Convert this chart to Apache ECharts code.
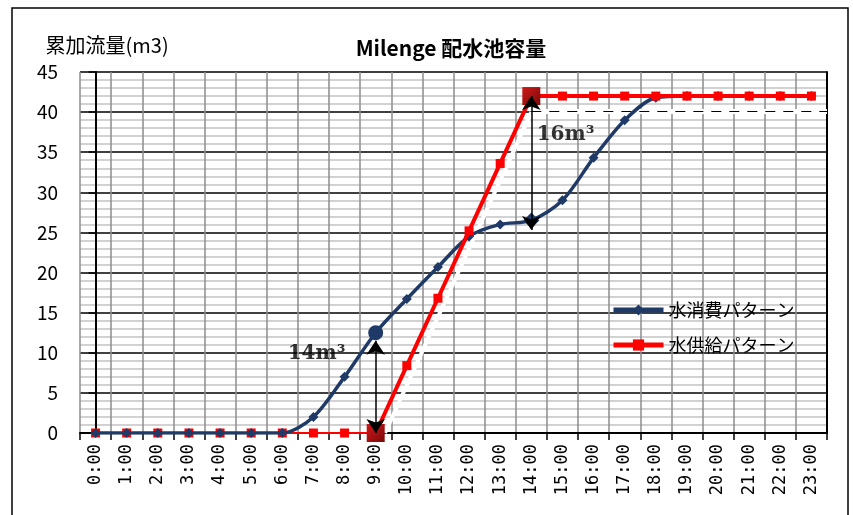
<!DOCTYPE html>
<html>
<head>
<meta charset="utf-8">
<script src="https://cdn.jsdelivr.net/npm/echarts@6/dist/echarts.min.js"></script>
<style>
  html, body { margin: 0; padding: 0; background: #fff; }
  #chart { width: 853px; height: 515px; }
</style>
</head>
<body>
<div id="chart"></div>
<script>
// 時刻（横軸）
const hours = ['0:00', '1:00', '2:00', '3:00', '4:00', '5:00', '6:00', '7:00', '8:00', '9:00', '10:00', '11:00',
  '12:00', '13:00', '14:00', '15:00', '16:00', '17:00', '18:00', '19:00', '20:00', '21:00', '22:00', '23:00'];
// 水消費パターン（累加, m3）
const consumption = [0, 0, 0, 0, 0, 0, 0, 2, 7, 12.5, 16.7, 20.7, 24.5, 26, 26.5, 29, 34.3, 39, 41.8, 42, 42, 42, 42, 42];
// 水供給パターン（累加, m3）
const supply = [0, 0, 0, 0, 0, 0, 0, 0, 0, 0, 8.4, 16.8, 25.2, 33.6, 42, 42, 42, 42, 42, 42, 42, 42, 42, 42];
// 強調する時刻のインデックス
const highlightIdx = [9, 14];
const supplyStart = 9;
// 差分の矢印 [時刻, 下端, 上端]
const gapArrows = [[9, 0, 11.5], [14, 25.3, 42]];
// 矢印ラベル [時刻位置, 値, テキスト]
const gapLabels = [[7.1, 9.9, '14m³'], [15.1, 37.2, '16m³']];
// 白い影の線 と 40m3 の破線
const shadowLine = [[9.3, 0], [14, 40]];
const levelLine = [[14, 40.1], [23.5, 40.1]];

const navy = '#1F3A66';
const red = '#FF0000';
const bigSquare = {
  type: 'linear', x: 0, y: 0, x2: 1, y2: 1,
  colorStops: [{ offset: 0, color: '#D01818' }, { offset: 1, color: '#7A0A0A' }]
};
const font = '"Noto Sans CJK JP", sans-serif';

const chart = echarts.init(document.getElementById('chart'));

const option = {
  animation: false,
  textStyle: { fontFamily: font },
  graphic: [
    { type: 'rect', shape: { x: 12, y: 8, width: 836, height: 530 }, style: { fill: 'none', stroke: '#000', lineWidth: 1.5 }, z: -1 }
  ],
  title: {
    text: 'Milenge 配水池容量',
    left: 446, top: 33, textAlign: 'center',
    textStyle: { fontSize: 21, fontWeight: 'bold', color: '#000', fontFamily: font }
  },
  legend: {
    left: 606, top: 296, orient: 'vertical', itemGap: 17,
    itemWidth: 50, itemHeight: 14,
    lineStyle: { width: 5 },
    data: ['水消費パターン', '水供給パターン'],
    textStyle: { fontSize: 18, color: '#000', fontFamily: font }
  },
  grid: { left: 80, right: 26, top: 72, bottom: 82 },
  xAxis: [
    {
      type: 'category', data: hours,
      axisLine: { lineStyle: { color: '#000', width: 2 } },
      axisTick: { show: true, length: 7, lineStyle: { color: '#000', width: 1.5 } },
      axisLabel: { rotate: 90, margin: 11, fontSize: 17, color: '#000', fontFamily: '"DejaVu Sans Mono", monospace' },
      splitLine: { show: true, lineStyle: { color: '#8c8c8c', width: 1.5 } }
    },
    { type: 'value', min: -0.5, max: 23.5, show: false }
  ],
  yAxis: [
    {
      type: 'value', min: 0, max: 45, interval: 5,
      name: '累加流量(m3)', nameLocation: 'end', nameGap: 17,
      nameTextStyle: { fontSize: 20, color: '#000', align: 'left', padding: [0, 0, 0, -50], fontFamily: font },
      axisLine: { show: true, lineStyle: { color: '#000', width: 2 } },
      axisTick: { show: true, length: 7, lineStyle: { color: '#000', width: 1.5 } },
      axisLabel: { fontSize: 19, color: '#000', margin: 22, fontFamily: font },
      splitLine: { lineStyle: { color: '#000', width: 1.5 } },
      minorTick: { show: false, splitNumber: 5 },
      minorSplitLine: { show: true, lineStyle: { color: '#c4c4c4', width: 1.5 } }
    },
    {
      type: 'value', min: 0, max: 45, position: 'right',
      axisLine: { show: true, lineStyle: { color: '#000', width: 2 } },
      axisTick: { show: false }, axisLabel: { show: false }, splitLine: { show: false }
    }
  ],
  series: [
    {
      name: '白影', type: 'lines', coordinateSystem: 'cartesian2d', xAxisIndex: 1, z: 2,
      lineStyle: { color: '#fff', width: 4, opacity: 1 },
      data: [{ coords: shadowLine }]
    },
    {
      name: '白帯', type: 'lines', coordinateSystem: 'cartesian2d', xAxisIndex: 1, z: 2,
      lineStyle: { color: '#fff', width: 5, opacity: 1 },
      data: [{ coords: levelLine }]
    },
    {
      name: '40m3', type: 'lines', coordinateSystem: 'cartesian2d', xAxisIndex: 1, z: 3,
      lineStyle: { color: '#000', width: 1.2, type: [10, 8], opacity: 1 },
      data: [{ coords: levelLine }]
    },
    {
      name: '水消費パターン', type: 'line', smooth: 0.3, z: 5,
      color: navy,
      lineStyle: { width: 3.5, color: navy },
      symbol: 'diamond', symbolSize: 10, showAllSymbol: true,
      itemStyle: { color: navy },
      data: consumption.map((v, i) => highlightIdx.includes(i)
        ? { value: v, symbol: i === 9 ? 'circle' : 'diamond', symbolSize: i === 9 ? 15 : 16, itemStyle: { color: navy } }
        : v)
    },
    {
      name: '供給待ち', type: 'line', z: 4,
      lineStyle: { width: 2, color: red },
      symbol: 'rect', symbolSize: 9, itemStyle: { color: red },
      data: supply.map((v, i) => i <= supplyStart ? v : null)
    },
    {
      name: '水供給パターン', type: 'line', z: 6,
      color: red,
      lineStyle: { width: 4, color: red },
      symbol: 'rect', symbolSize: 9, showAllSymbol: true,
      itemStyle: { color: red },
      data: supply.map((v, i) => i < supplyStart ? null
        : highlightIdx.includes(i) ? { value: v, symbolSize: 18, itemStyle: { color: bigSquare } } : v)
    },
    {
      name: '差分', type: 'lines', coordinateSystem: 'cartesian2d', xAxisIndex: 1, z: 7,
      symbol: ['arrow', 'arrow'], symbolSize: [14, 14],
      lineStyle: { color: '#000', width: 1.5, opacity: 1 },
      data: gapArrows.map(a => ({ coords: [[a[0], a[1]], [a[0], a[2]]] }))
    },
    {
      name: '差分ラベル', type: 'scatter', xAxisIndex: 1, symbolSize: 0, z: 8,
      label: {
        show: true, position: 'inside', formatter: p => p.data[2],
        fontFamily: '"DejaVu Serif", serif', fontWeight: 'bold', fontSize: 20, color: '#000'
      },
      data: gapLabels
    }
  ]
};

chart.setOption(option);
</script>
</body>
</html>
